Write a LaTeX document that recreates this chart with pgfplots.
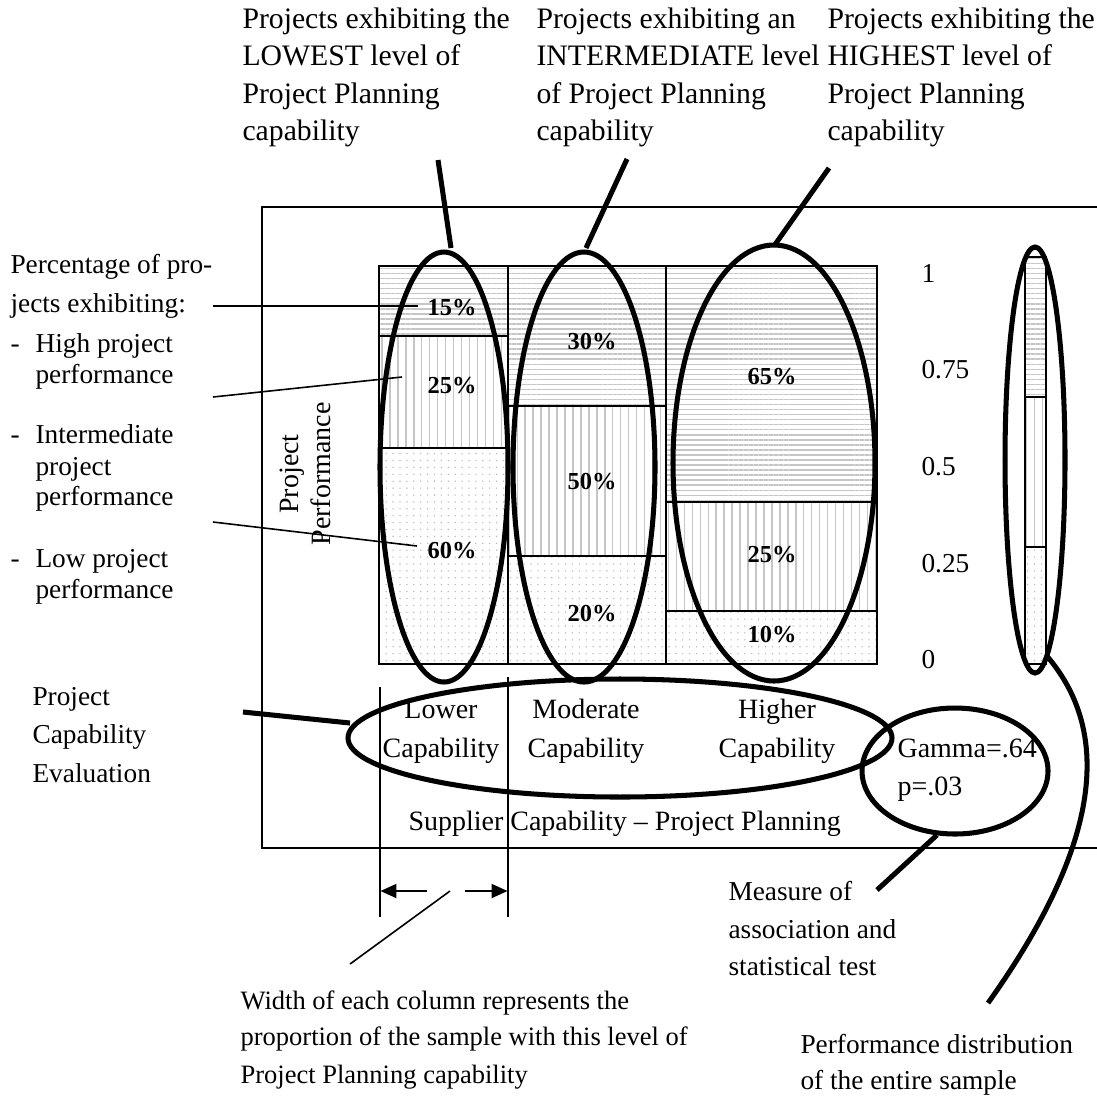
\documentclass[border=0pt]{standalone}
\usepackage{pgfplots}
\pgfplotsset{compat=1.18}
\usepackage{fontspec}
\setmainfont{Liberation Serif}
\usetikzlibrary{patterns.meta,arrows.meta}

% one cell of the mosaic: x0, x1, y0, y1, style
\newcommand{\cell}[5]{\addplot[#5] coordinates {(#1,#3) (#2,#3) (#2,#4) (#1,#4)} -- cycle;}

\pgfplotsset{
  low/.style={draw=black, line width=0.55pt, pattern={Dots[distance=2.6pt, radius=0.3pt]}, pattern color=gray!55},
  mid/.style={draw=black, line width=0.55pt, pattern={Lines[angle=90, distance=3pt, line width=0.55pt]}, pattern color=gray!45},
  high/.style={draw=black, line width=0.55pt, pattern={Lines[angle=0, distance=1.9pt, line width=0.55pt]}, pattern color=gray!45},
}

\begin{document}
\begin{tikzpicture}
% 1 px of the reference = 0.377pt
\useasboundingbox (0pt,0pt) rectangle (413.57pt,-412.82pt);

\begin{axis}[
    at={(142.88pt,-250.33pt)}, anchor=south west,
    scale only axis, width=187.75pt, height=150.05pt,
    xmin=0, xmax=1, ymin=0, ymax=1,
    hide axis, clip=false,
  ]
  % lower capability
  \cell{0}{0.259}{0}{0.543}{low}
  \cell{0}{0.259}{0.543}{0.824}{mid}
  \cell{0}{0.259}{0.824}{1}{high}
  % moderate capability
  \cell{0.259}{0.576}{0}{0.271}{low}
  \cell{0.259}{0.576}{0.271}{0.648}{mid}
  \cell{0.259}{0.576}{0.648}{1}{high}
  % higher capability
  \cell{0.576}{1}{0}{0.133}{low}
  \cell{0.576}{1}{0.133}{0.407}{mid}
  \cell{0.576}{1}{0.407}{1}{high}
  % whole sample
  \cell{1.297}{1.339}{0}{0.294}{low}
  \cell{1.297}{1.339}{0.294}{0.671}{mid}
  \cell{1.297}{1.339}{0.671}{1.023}{high}
\end{axis}

\begin{scope}[x=0.377pt, y=-0.377pt,
    every node/.style={inner sep=0pt, font=\fontsize{10.3pt}{12pt}\selectfont},
    tl/.style={anchor=base west}, tc/.style={anchor=base},
    ct/.style={font=\fontsize{10.55pt}{12pt}\selectfont},
    tt/.style={anchor=base west, font=\fontsize{11.2pt}{13pt}\selectfont},
    bl/.style={anchor=base, font=\fontsize{9.2pt}{11pt}\selectfont\bfseries}]
  % frame
  \draw[line width=0.6pt] (1097,207) -- (262,207) -- (262,848) -- (1097,848);
  \draw[line width=0.6pt] (380,687) -- (380,917);
  \draw[line width=0.6pt] (508,677) -- (508,917);
  \draw[line width=0.6pt, -{Triangle[length=6pt, width=5.3pt]}] (427,891) -- (380.5,891);
  \draw[line width=0.6pt, -{Triangle[length=6pt, width=5.3pt]}] (465,891) -- (507.5,891);

  % cell labels
  \node[bl] at (452,315) {15\%};
  \node[bl] at (452,393) {25\%};
  \node[bl] at (452,558) {60\%};
  \node[bl] at (592,349) {30\%};
  \node[bl] at (592,489) {50\%};
  \node[bl] at (592,621) {20\%};
  \node[bl] at (772,384) {65\%};
  \node[bl] at (772,562) {25\%};
  \node[bl] at (772,642) {10\%};

  % right scale
  \node[tl] at (921,282) {1};
  \node[tl] at (921,378) {0.75};
  \node[tl] at (921,475) {0.5};
  \node[tl] at (921,572) {0.25};
  \node[tl] at (921,668) {0};

  % axis titles
  \node[tc, ct, rotate=90] at (298,474) {Project};
  \node[tc, ct, rotate=90] at (330,474) {Performance};
  \node[tc, ct] at (441,718) {Lower};
  \node[tc, ct] at (441,757) {Capability};
  \node[tc, ct] at (586,718) {Moderate};
  \node[tc, ct] at (586,757) {Capability};
  \node[tc, ct] at (777,718) {Higher};
  \node[tc, ct] at (777,757) {Capability};
  \node[tl, ct] at (897,757) {Gamma=.64};
  \node[tl, ct] at (897,795) {p=.03};
  \node[tl, ct] at (408,830) {Supplier Capability – Project Planning};

  % ellipses and thick pointers
  \begin{scope}[line width=1.9pt]
    \draw (444,467) ellipse [x radius=64, y radius=215];
    \draw (584,467) ellipse [x radius=71, y radius=215];
    \draw (774,463) ellipse [x radius=101, y radius=218];
    \draw (1035,460) ellipse [x radius=30, y radius=213];
    \draw (620,738) ellipse [x radius=272, y radius=59];
    \draw (955,771) ellipse [x radius=93, y radius=63];
    \draw (438,160) -- (451,248);
    \draw (627,159) -- (586,248);
    \draw (829,168) -- (774,246);
    \draw (243,712) -- (350,723);
    \draw (877,890) -- (937,835);
    \draw (1046,655) .. controls (1120,740) and (1090,860) .. (988,1003);
  \end{scope}

  % thin leader lines
  \draw[line width=0.6pt] (213,306) -- (418,306);
  \draw[line width=0.6pt] (213,397) -- (402,377);
  \draw[line width=0.6pt] (213,522) -- (417,546);
  \draw[line width=0.6pt] (450,891) -- (350,964);

  % top notes
  \node[tt] at (242,28) {Projects exhibiting the};
  \node[tt] at (242,65) {LOWEST level of};
  \node[tt] at (242,103) {Project Planning};
  \node[tt] at (242,140) {capability};
  \node[tt] at (536,28) {Projects exhibiting an};
  \node[tt] at (536,65) {INTERMEDIATE level};
  \node[tt] at (536,103) {of Project Planning};
  \node[tt] at (536,140) {capability};
  \node[tt] at (827,28) {Projects exhibiting the};
  \node[tt] at (827,65) {HIGHEST level of};
  \node[tt] at (827,103) {Project Planning};
  \node[tt] at (827,140) {capability};

  % left notes
  \node[tl] at (10,273) {Percentage of pro-};
  \node[tl] at (10,312) {jects exhibiting:};
  \node[tl] at (10,352) {-};
  \node[tl] at (35,352) {High project};
  \node[tl] at (35,383) {performance};
  \node[tl] at (10,443) {-};
  \node[tl] at (35,443) {Intermediate};
  \node[tl] at (35,475) {project};
  \node[tl] at (35,505) {performance};
  \node[tl] at (10,567) {-};
  \node[tl] at (35,567) {Low project};
  \node[tl] at (35,598) {performance};
  \node[tl] at (32,705) {Project};
  \node[tl] at (32,743) {Capability};
  \node[tl] at (32,782) {Evaluation};

  % bottom notes
  \node[tl] at (728,900) {Measure of};
  \node[tl] at (728,938) {association and};
  \node[tl] at (728,975) {statistical test};
  \begin{scope}[every node/.style={inner sep=0pt, font=\fontsize{10pt}{12pt}\selectfont}]
    \node[tl] at (240,1009) {Width of each column represents the};
    \node[tl] at (240,1045) {proportion of the sample with this level of};
    \node[tl] at (240,1083) {Project Planning capability};
  \end{scope}
  \node[tl] at (800,1053) {Performance distribution};
  \node[tl] at (800,1089) {of the entire sample};
\end{scope}
\end{tikzpicture}
\end{document}
